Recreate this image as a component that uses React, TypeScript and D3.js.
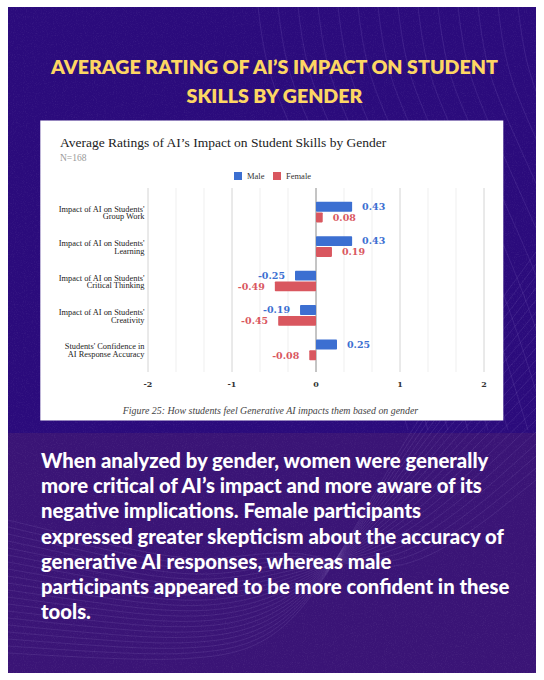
import { useEffect, useRef } from "react";
import * as d3 from "d3";

const categories = [
  ["Impact of AI on Students'", "Group Work"],
  ["Impact of AI on Students'", "Learning"],
  ["Impact of AI on Students'", "Critical Thinking"],
  ["Impact of AI on Students'", "Creativity"],
  ["Students' Confidence in", "AI Response Accuracy"],
];
const maleValues = [0.43, 0.43, -0.25, -0.19, 0.25];
const femaleValues = [0.08, 0.19, -0.49, -0.45, -0.08];
const majorTicks = [-2, -1, 0, 1, 2];
const minorTicks = [-5 / 3, -4 / 3, -2 / 3, -1 / 3, 1 / 3, 2 / 3, 4 / 3, 5 / 3];
const headingLines = ["AVERAGE RATING OF AI’S IMPACT ON STUDENT", "SKILLS BY GENDER"];
const bodyLines = [
  "When analyzed by gender, women were generally",
  "more critical of AI’s impact and more aware of its",
  "negative implications. Female participants",
  "expressed greater skepticism about the accuracy of",
  "generative AI responses, whereas male",
  "participants appeared to be more confident in these",
  "tools.",
];

const BLUE = "#3c6fd1";
const RED = "#d9575f";
const SERIF = "'Liberation Serif', serif";
const VALUE_FONT = "'DejaVu Serif', serif";
const SANS = "Lato, sans-serif";

export default function App() {
  const svgRef = useRef<SVGSVGElement>(null);

  useEffect(() => {
    if (!svgRef.current) return;
    const svg = d3.select(svgRef.current);
    svg.selectAll("*").remove();

    const defs = svg.append("defs");
    const speck = defs.append("filter").attr("id", "speck").attr("x", 0).attr("y", 0).attr("width", 1).attr("height", 1);
    speck.append("feTurbulence").attr("type", "fractalNoise").attr("baseFrequency", 0.9).attr("numOctaves", 2).attr("seed", 4);
    speck.append("feColorMatrix").attr("values", "0 0 0 0 1  0 0 0 0 1  0 0 0 0 1  0 0 0 0.55 -0.27");
    const clip = defs.append("clipPath").attr("id", "page");
    clip.append("rect").attr("x", 8).attr("y", 7).attr("width", 528).attr("height", 666);

    // Page background
    svg.append("rect").attr("width", 544).attr("height", 680).attr("fill", "#fff");
    svg.append("rect").attr("x", 8).attr("y", 7).attr("width", 528).attr("height", 666).attr("fill", "#2b0b7c");
    svg.append("rect").attr("x", 8).attr("y", 433).attr("width", 528).attr("height", 240).attr("fill", "#3a1476");

    // Decorative line work behind the text
    const deco = svg.append("g").attr("clip-path", "url(#page)").attr("fill", "none").attr("stroke", "#b9a6e6");
    const curve = d3.line().curve(d3.curveBasis);
    d3.range(14).forEach(i => {
      const x = 258 + i * 20;
      deco.append("path")
        .attr("d", curve([[x, 7], [x + 8, 70], [x + 34, 130], [x + 70, 210], [x + 110, 300], [x + 150, 430]]))
        .attr("stroke-opacity", 0.22).attr("stroke-width", 0.6);
    });
    d3.range(20).forEach(i => {
      const y = 540 + i * 7;
      deco.append("path")
        .attr("d", curve([[8, y - 20], [110, y + 5 - i], [210, y + 26 - i * 2], [300, y + 2 - i * 2], [400, 590 - i * 8], [536, 480 - i * 12]]))
        .attr("stroke-opacity", 0.2).attr("stroke-width", 0.6);
    });
    svg.append("rect").attr("x", 8).attr("y", 7).attr("width", 528).attr("height", 666)
      .attr("filter", "url(#speck)").attr("opacity", 0.28);

    // Heading
    svg.append("g").selectAll("text").data(headingLines).enter().append("text")
      .text(d => d)
      .attr("x", 274.5)
      .attr("y", (_, i) => 74 + i * 29)
      .attr("text-anchor", "middle")
      .style("font-family", SANS)
      .style("font-weight", 800)
      .style("font-size", "19.6px")
      .style("fill", "#fdd663");

    // Chart card
    svg.append("rect").attr("x", 40.3).attr("y", 120.5).attr("width", 463).attr("height", 300).attr("fill", "#fff");

    svg.append("text").text("Average Ratings of AI’s Impact on Student Skills by Gender")
      .attr("x", 60).attr("y", 147)
      .style("font-family", SERIF).style("font-size", "13.5px").style("fill", "#222");
    svg.append("text").text("N=168")
      .attr("x", 60).attr("y", 161)
      .style("font-family", SERIF).style("font-size", "9.5px").style("fill", "#999");

    // Legend
    const legend = [
      { name: "Male", color: BLUE, x: 234 },
      { name: "Female", color: RED, x: 273 },
    ];
    legend.forEach(l => {
      svg.append("rect").attr("x", l.x).attr("y", 172).attr("width", 8).attr("height", 8).attr("fill", l.color);
      svg.append("text").text(l.name).attr("x", l.x + 13).attr("y", 179)
        .style("font-family", SERIF).style("font-size", "8.5px").style("fill", "#333");
    });

    // Scales
    const x = d3.scaleLinear().domain([-2, 2]).range([148, 484]);
    const y = d3.scaleBand<number>()
      .domain(d3.range(categories.length))
      .range([189, 373])
      .paddingInner(0.4)
      .paddingOuter(0.37);
    const sub = d3.scaleBand<string>().domain(["m", "f"]).range([0, y.bandwidth()]).paddingInner(0.08);

    // Gridlines
    const grid = svg.append("g");
    grid.selectAll("line.minor").data(minorTicks).enter().append("line")
      .attr("class", "minor")
      .attr("x1", d => x(d)).attr("x2", d => x(d)).attr("y1", 188).attr("y2", 372)
      .attr("stroke", "#efefef").attr("stroke-width", 1);
    grid.selectAll("line.major").data(majorTicks).enter().append("line")
      .attr("class", "major")
      .attr("x1", d => x(d)).attr("x2", d => x(d)).attr("y1", 188).attr("y2", 372)
      .attr("stroke", d => (d === 0 ? "#8a8a8a" : "#d4d4d4")).attr("stroke-width", 1);

    // Bars and value labels
    const series = [
      { key: "m", values: maleValues, color: BLUE },
      { key: "f", values: femaleValues, color: RED },
    ];
    series.forEach(s => {
      const g = svg.append("g");
      g.selectAll("rect").data(s.values).enter().append("rect")
        .attr("x", d => Math.min(x(d), x(0)))
        .attr("y", (_, i) => y(i)! + sub(s.key)!)
        .attr("width", d => Math.abs(x(d) - x(0)))
        .attr("height", sub.bandwidth())
        .attr("rx", 0.8)
        .attr("fill", s.color);
      g.selectAll("text").data(s.values).enter().append("text")
        .text(d => d3.format(".2f")(d).replace("−", "-"))
        .attr("x", d => x(d) + (d < 0 ? -10 : 10))
        .attr("y", (_, i) => y(i)! + sub(s.key)! + sub.bandwidth() / 2)
        .attr("dy", "0.35em")
        .attr("text-anchor", d => (d < 0 ? "end" : "start"))
        .style("font-family", VALUE_FONT)
        .style("font-weight", "bold")
        .style("font-size", "9.5px")
        .style("fill", s.color);
    });

    // Category labels
    const labels = svg.append("g").selectAll("g").data(categories).enter().append("g");
    labels.each(function (d, i) {
      d3.select(this).selectAll("text").data(d).enter().append("text")
        .text(t => t)
        .attr("x", 144.5)
        .attr("y", (_, j) => y(i)! + y.bandwidth() / 2 - 0.5 + j * 7.6)
        .attr("text-anchor", "end")
        .style("font-family", SERIF)
        .style("font-size", "8.4px")
        .style("fill", "#222");
    });

    // X axis tick labels
    svg.append("g").selectAll("text").data(majorTicks).enter().append("text")
      .text(d => d3.format("d")(d).replace("−", "-"))
      .attr("x", d => x(d))
      .attr("y", 387)
      .attr("text-anchor", "middle")
      .style("font-family", VALUE_FONT)
      .style("font-weight", "bold")
      .style("font-size", "8px")
      .style("fill", "#333");

    svg.append("text").text("Figure 25: How students feel Generative AI impacts them based on gender")
      .attr("x", 270.5).attr("y", 414)
      .attr("text-anchor", "middle")
      .style("font-family", SERIF).style("font-style", "italic").style("font-size", "9.9px").style("fill", "#444");

    // Body copy
    svg.append("g").selectAll("text").data(bodyLines).enter().append("text")
      .text(d => d)
      .attr("x", 41)
      .attr("y", (_, i) => 468 + i * 25.2)
      .style("font-family", SANS)
      .style("font-weight", 900)
      .style("font-size", "20.3px")
      .style("fill", "#fff");
  }, []);

  return <svg ref={svgRef} width={544} height={680} viewBox="0 0 544 680" style={{ position: "absolute", left: 0, top: 0 }} />;
}
